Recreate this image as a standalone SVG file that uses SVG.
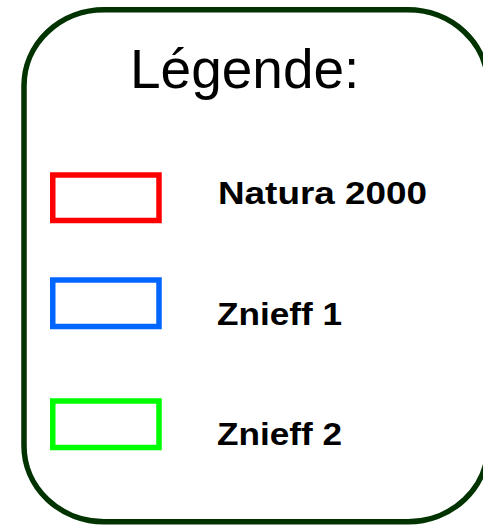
<svg xmlns="http://www.w3.org/2000/svg" width="483" height="525" viewBox="0 0 483 525">
<style>
.frame{fill:#ffffff;stroke:#003300;stroke-width:5.5}
.sw{fill:none;stroke-width:5.5}
.lbl{font-family:"Liberation Sans",Arial,sans-serif;font-weight:bold;font-size:32px;fill:#000000}
.title{font-family:"Liberation Sans",Arial,sans-serif;font-size:55px;fill:#000000}
</style>
<rect width="483" height="525" fill="#ffffff"/>
<g id="legend-frame">
<rect class="frame" x="24" y="9.7" width="464" height="512" rx="80" ry="76"/>
</g>
<g id="title">
<text class="title" x="130" y="88">Légende:</text>
</g>
<g id="natura2000">
<rect class="sw" stroke="#ff0000" x="52.75" y="175" width="106.25" height="45.5"/>
<text class="lbl" x="218" y="204" textLength="209" lengthAdjust="spacingAndGlyphs">Natura 2000</text>
</g>
<g id="znieff1">
<rect class="sw" stroke="#0066ff" x="52.75" y="280" width="106.25" height="46.5"/>
<text class="lbl" x="217" y="325" textLength="125" lengthAdjust="spacingAndGlyphs">Znieff 1</text>
</g>
<g id="znieff2">
<rect class="sw" stroke="#00ff00" x="52.75" y="401" width="106.25" height="46.5"/>
<text class="lbl" x="217" y="445" textLength="125" lengthAdjust="spacingAndGlyphs">Znieff 2</text>
</g>
<g id="connectors"></g>
</svg>
